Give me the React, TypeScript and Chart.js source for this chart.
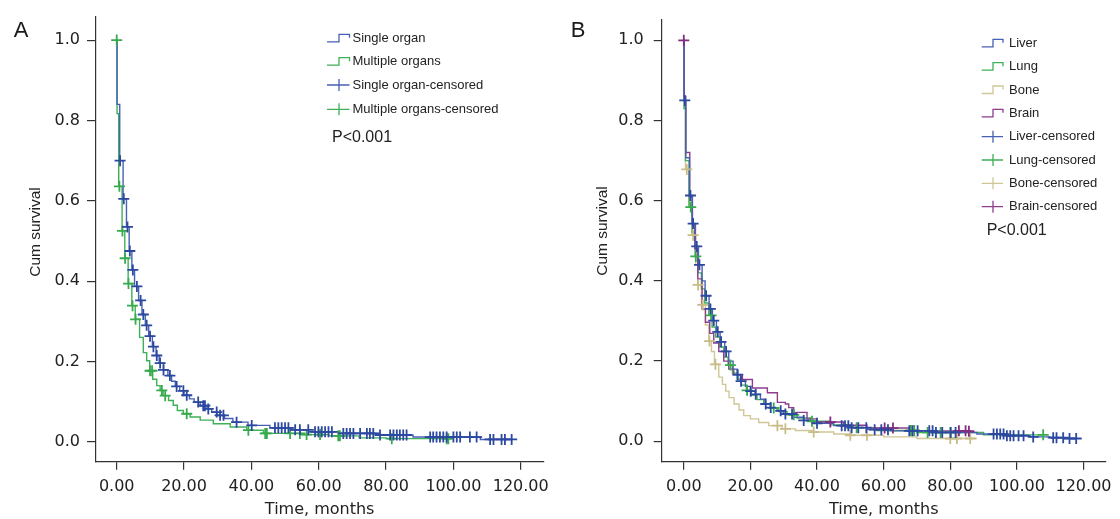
import React, { useEffect, useRef } from "react";
import { Chart, registerables } from "chart.js";
Chart.register(...registerables);

// ---------- tick labels ----------
const xTickValues = [0, 20, 40, 60, 80, 100, 120];
const yTickValues = [0, 0.2, 0.4, 0.6, 0.8, 1.0];

// ---------- Panel A ----------
const singleTimes = [0, 0.1, 0.9, 1.9, 2.9, 3.7, 4.5, 5.3, 6.5, 7.5, 8.5, 9.5, 10.6, 11.7, 12.6, 13.9, 15.2, 16.3, 17.4, 18.7, 20, 21.6, 23, 24.8, 26.8, 28.2, 29.8, 32, 34.5, 39, 45.5, 52, 57, 66, 78, 88, 108, 117.5];
const singleSurv = [1, 0.84, 0.7, 0.605, 0.535, 0.475, 0.428, 0.387, 0.352, 0.317, 0.29, 0.263, 0.237, 0.215, 0.196, 0.179, 0.165, 0.151, 0.138, 0.127, 0.116, 0.107, 0.099, 0.09, 0.082, 0.074, 0.066, 0.058, 0.049, 0.041, 0.035, 0.03, 0.025, 0.021, 0.017, 0.012, 0.006, 0.006];
const singleCensored = [1.0, 2.1, 3.2, 3.9, 4.8, 6.0, 7.1, 7.9, 8.9, 9.9, 10.9, 11.9, 12.9, 13.9, 15.8, 17.8, 19.8, 20.8, 24.2, 25.7, 26.2, 27.2, 29.7, 30.7, 31.7, 35.6, 40.1, 47, 48, 49, 50, 51, 53, 54.4, 56.9, 58.9, 59.9, 60.9, 61.9, 62.9, 63.9, 67.3, 68.3, 69.3, 70.3, 72.3, 74.3, 75.2, 76.2, 78.2, 81.2, 82.2, 83.2, 84.1, 85.1, 86.1, 93.1, 94, 95, 96, 97, 98, 100, 101, 102, 104.9, 106.9, 110.9, 111.9, 114.3, 115.3, 117.3];

const multiTimes = [0, 0.1, 0.6, 1.6, 2.4, 3.4, 4.5, 5.5, 6.8, 7.9, 8.9, 9.8, 10.7, 11.9, 12.9, 13.8, 15.4, 16.8, 18, 19.8, 21.8, 24.8, 28.7, 33.7, 38.6, 43.6, 55, 63, 72, 80, 98.5];
const multiSurv = [1, 0.817, 0.636, 0.525, 0.457, 0.394, 0.339, 0.305, 0.26, 0.222, 0.202, 0.177, 0.156, 0.14, 0.128, 0.115, 0.103, 0.091, 0.078, 0.07, 0.062, 0.054, 0.045, 0.037, 0.029, 0.021, 0.018, 0.015, 0.01, 0.008, 0.008];
const multiCensored = [0, 0.8, 1.7, 2.5, 3.5, 4.7, 5.6, 9.9, 10.5, 13.4, 14.4, 20.8, 39.1, 44.1, 44.6, 51.5, 54.4, 56.4, 60.4, 65.8, 66.3, 81.7, 98, 98.5];

// ---------- Panel B ----------
const liverTimes = [0, 0.1, 0.6, 1.7, 2.5, 3.5, 4.4, 5.5, 6.4, 7.6, 8.6, 9.8, 10.9, 12.3, 13.5, 14.8, 16, 17, 18.5, 20, 21.4, 23, 24.4, 26, 28, 29.9, 33, 36, 39, 45, 50, 55, 62, 75, 88, 97, 104, 110, 114, 117.8];
const liverSurv = [1, 0.85, 0.707, 0.613, 0.543, 0.486, 0.44, 0.4, 0.363, 0.33, 0.301, 0.273, 0.248, 0.224, 0.2, 0.18, 0.166, 0.15, 0.137, 0.125, 0.117, 0.105, 0.093, 0.084, 0.076, 0.068, 0.06, 0.052, 0.045, 0.039, 0.034, 0.029, 0.026, 0.022, 0.018, 0.014, 0.011, 0.009, 0.007, 0.007];
const liverCensored = [0.3, 2.0, 2.8, 3.9, 4.7, 6.7, 8.0, 9.0, 10.2, 11.2, 12.7, 16.2, 17.2, 20.1, 21.6, 24.6, 26.1, 29.1, 30.5, 32.5, 36, 40, 47.4, 48.4, 49.4, 50.4, 52.4, 54.8, 57.3, 59.3, 61.3, 67.7, 68.7, 70.2, 73.7, 74.7, 75.7, 77.6, 80.1, 81.6, 93, 94, 95, 96, 97, 98, 99, 100.5, 102, 104.9, 110.9, 111.9, 113.9, 115.8, 117.8];

const lungTimes = [0, 0.1, 0.5, 1.6, 2.5, 3.4, 4.3, 5.3, 6.3, 7.5, 8.5, 9.6, 10.8, 12, 13.3, 14.6, 16, 17.3, 18.8, 20.3, 22, 24, 26, 28.5, 31, 34, 38, 44, 50, 58, 70, 90, 107.9];
const lungSurv = [1, 0.83, 0.7, 0.584, 0.52, 0.461, 0.42, 0.38, 0.345, 0.314, 0.285, 0.26, 0.235, 0.21, 0.19, 0.17, 0.155, 0.14, 0.127, 0.115, 0.104, 0.093, 0.083, 0.074, 0.066, 0.058, 0.05, 0.041, 0.034, 0.027, 0.022, 0.016, 0.016];
const lungCensored = [2.1, 3.6, 8.2, 14, 19, 27, 33, 38.5, 51.9, 68.2, 69.2, 73.2, 77.1, 80.1, 107.9];

const boneTimes = [0, 0.1, 0.5, 1.5, 2.5, 3.6, 4.2, 5.3, 6.5, 7.5, 8.3, 9.2, 10.5, 11.6, 12.6, 13.6, 15.1, 16.6, 18, 20, 22.5, 25.5, 29.5, 33.5, 38.5, 45, 50, 60, 70, 88];
const boneSurv = [1, 0.83, 0.678, 0.59, 0.514, 0.44, 0.39, 0.34, 0.29, 0.25, 0.224, 0.192, 0.16, 0.142, 0.125, 0.109, 0.093, 0.078, 0.064, 0.056, 0.047, 0.039, 0.031, 0.027, 0.023, 0.018, 0.015, 0.011, 0.007, 0.007];
const boneCensored = [0.9, 2.8, 4.3, 5.7, 7.7, 9.5, 28.1, 30.5, 39, 50, 55, 80, 82, 86];

const brainTimes = [0, 0.1, 0.6, 1.8, 2.6, 3.3, 4.2, 5.5, 6.5, 7.8, 9, 10.5, 12, 13.5, 15, 17.6, 20.6, 25.1, 28.1, 30.5, 31.5, 33, 37, 40, 48, 55, 68, 85.6];
const brainSurv = [1, 0.86, 0.72, 0.61, 0.54, 0.48, 0.405, 0.33, 0.297, 0.269, 0.245, 0.224, 0.2, 0.18, 0.166, 0.154, 0.133, 0.121, 0.097, 0.093, 0.084, 0.072, 0.056, 0.048, 0.04, 0.033, 0.026, 0.025];
const brainCensored = [0, 44, 60.3, 62.8, 82.6, 84.6, 85.6];

// ---------- texts ----------
const legendA = ["Single organ", "Multiple organs", "Single organ-censored", "Multiple organs-censored"];
const legendB = ["Liver", "Lung", "Bone", "Brain", "Liver-censored", "Lung-censored", "Bone-censored", "Brain-censored"];
const pValueText = "P<0.001";
const xTitle = "Time, months";
const yTitle = "Cum survival";

// ---------- colours ----------
const BLUE = "rgb(72,96,178)";
const BLUE_MARK = "rgb(44,72,160)";
const GREEN = "rgb(62,176,86)";
const GREEN_MARK = "rgb(56,170,78)";
const TAN = "rgb(208,198,150)";
const TAN_MARK = "rgb(200,188,135)";
const PURPLE = "rgb(142,60,142)";
const PURPLE_MARK = "rgb(130,45,130)";

type Curve = { times: number[]; surv: number[]; cens: number[]; line: string; mark: string };

function survAt(t: number, times: number[], surv: number[]) {
  let s = surv[0];
  for (let i = 0; i < times.length; i++) if (times[i] <= t) s = surv[i];
  return s;
}

type PanelCfg = {
  offsetX: number;
  letter: string;
  letterX: number;
  chartLeft: number;
  chartRight: number;
  xMin: number;
  xMax: number;
  yMin: number;
  yMax: number;
  yTickLen: number;
  yTickPad: number;
  yTitleX: number;
  yTitleY: number;
  curves: Curve[];
  legendLabels: string[];
  legendKinds: { kind: "line" | "cross"; color: string }[];
  iconX0: number;
  iconX1: number;
  iconXm: number;
  textX: number;
  rowY: number[];
  pX: number;
  pY: number;
};

const panelA: PanelCfg = {
  offsetX: 0,
  letter: "A",
  letterX: 21,
  chartLeft: 96,
  chartRight: 543.3,
  xMin: -6.15,
  xMax: 126.7,
  yMin: -0.0494,
  yMax: 1.0585,
  yTickLen: 9,
  yTickPad: 7,
  yTitleX: 36,
  yTitleY: 232,
  curves: [
    { times: singleTimes, surv: singleSurv, cens: singleCensored, line: BLUE, mark: BLUE_MARK },
    { times: multiTimes, surv: multiSurv, cens: multiCensored, line: GREEN, mark: GREEN_MARK },
  ],
  legendLabels: legendA,
  legendKinds: [
    { kind: "line", color: BLUE },
    { kind: "line", color: GREEN },
    { kind: "cross", color: BLUE },
    { kind: "cross", color: GREEN },
  ],
  iconX0: 327,
  iconX1: 349.5,
  iconXm: 339,
  textX: 352.5,
  rowY: [38.3, 61.7, 85, 109.3],
  pX: 332,
  pY: 138,
};

const panelB: PanelCfg = {
  offsetX: 560,
  letter: "B",
  letterX: 578,
  chartLeft: 101.7,
  chartRight: 550,
  xMin: -6.63,
  xMax: 126.7,
  yMin: -0.0509,
  yMax: 1.0516,
  yTickLen: 8,
  yTickPad: 10,
  yTitleX: 603,
  yTitleY: 231,
  curves: [
    { times: liverTimes, surv: liverSurv, cens: liverCensored, line: BLUE, mark: BLUE_MARK },
    { times: brainTimes, surv: brainSurv, cens: brainCensored, line: PURPLE, mark: PURPLE_MARK },
    { times: lungTimes, surv: lungSurv, cens: lungCensored, line: GREEN, mark: GREEN_MARK },
    { times: boneTimes, surv: boneSurv, cens: boneCensored, line: TAN, mark: TAN_MARK },
  ],
  legendLabels: legendB,
  legendKinds: [
    { kind: "line", color: BLUE },
    { kind: "line", color: GREEN },
    { kind: "line", color: TAN },
    { kind: "line", color: PURPLE },
    { kind: "cross", color: BLUE },
    { kind: "cross", color: GREEN },
    { kind: "cross", color: TAN },
    { kind: "cross", color: PURPLE },
  ],
  iconX0: 981.7,
  iconX1: 1003,
  iconXm: 993,
  textX: 1009,
  rowY: [43.3, 66.7, 90, 113.3, 136.7, 160, 183.3, 206.7],
  pX: 986.7,
  pY: 231,
};

const W = 560;
const H = 519;
const CHART_TOP = 13.3;
const AXIS_Y = 461.7;

function Panel({ cfg }: { cfg: PanelCfg }) {
  const ref = useRef<HTMLCanvasElement | null>(null);
  useEffect(() => {
    if (!ref.current) return;
    const markSets = cfg.curves.map((c) => ({
      data: c.cens.map((t) => ({ x: t, y: survAt(t, c.times, c.surv) })),
      showLine: false,
      pointStyle: "cross" as const,
      pointRadius: 5.5,
      pointBorderWidth: 1.8,
      borderColor: c.mark,
      backgroundColor: c.mark,
      pointBorderColor: c.mark,
    }));
    const lineSets = cfg.curves.map((c) => ({
      data: c.times.map((t, i) => ({ x: t, y: c.surv[i] })),
      stepped: "before" as const,
      borderColor: c.line,
      borderWidth: 1.4,
      pointRadius: 0,
      fill: false,
      tension: 0,
    }));
    const ox = cfg.offsetX;
    const deco = {
      id: "deco" + cfg.letter,
      afterDraw(chart: any) {
        const ctx = chart.ctx as CanvasRenderingContext2D;
        ctx.save();
        ctx.fillStyle = "#1a1a1a";
        ctx.textBaseline = "middle";
        ctx.textAlign = "center";
        ctx.font = '22px "Liberation Sans"';
        ctx.fillText(cfg.letter, cfg.letterX - ox, 31);
        // y-axis title
        ctx.save();
        ctx.translate(cfg.yTitleX - ox, cfg.yTitleY);
        ctx.rotate(-Math.PI / 2);
        ctx.font = '15.5px "Liberation Sans"';
        ctx.fillStyle = "#222";
        ctx.fillText(yTitle, 0, 0);
        ctx.restore();
        ctx.textAlign = "left";
        ctx.font = '13px "Liberation Sans"';
        cfg.legendLabels.forEach((lab, i) => {
          const y = cfg.rowY[i];
          const k = cfg.legendKinds[i];
          const x0 = cfg.iconX0 - ox;
          const x1 = cfg.iconX1 - ox;
          const xm = cfg.iconXm - ox;
          ctx.strokeStyle = k.color;
          ctx.lineWidth = 1.3;
          ctx.beginPath();
          if (k.kind === "line") {
            ctx.moveTo(x0, y + 3.5);
            ctx.lineTo(xm, y + 3.5);
            ctx.lineTo(xm, y - 4);
            ctx.lineTo(x1, y - 4);
            ctx.lineTo(x1, y - 0.5);
          } else {
            ctx.moveTo(x0, y);
            ctx.lineTo(x1, y);
            ctx.moveTo(xm, y - 6);
            ctx.lineTo(xm, y + 6);
          }
          ctx.stroke();
          ctx.fillStyle = "#222";
          ctx.fillText(lab, cfg.textX - ox, y);
        });
        ctx.font = '16px "Liberation Sans"';
        ctx.fillStyle = "#222";
        ctx.fillText(pValueText, cfg.pX - ox, cfg.pY);
        ctx.restore();
      },
    };
    const chart = new Chart(ref.current, {
      type: "line",
      data: { datasets: [...markSets, ...lineSets] as any },
      options: {
        animation: false,
        responsive: false,
        events: [],
        layout: { padding: { left: 0, top: CHART_TOP, right: W - cfg.chartRight, bottom: 0 } },
        plugins: { legend: { display: false }, tooltip: { enabled: false } },
        scales: {
          x: {
            type: "linear",
            min: cfg.xMin,
            max: cfg.xMax,
            afterBuildTicks: (s: any) => {
              s.ticks = xTickValues.map((v) => ({ value: v }));
            },
            afterFit: (s: any) => {
              s.height = H - AXIS_Y;
            },
            ticks: {
              callback: (v: any) => Number(v).toFixed(2),
              font: { family: "DejaVu Sans", size: 16 },
              color: "#222",
              padding: 8,
              maxRotation: 0,
              autoSkip: false,
            },
            grid: { drawOnChartArea: false, drawTicks: true, tickLength: 8, color: "#333", lineWidth: 1.2 },
            border: { display: true, color: "#333", width: 1.2 },
            title: {
              display: true,
              text: xTitle,
              font: { family: "DejaVu Sans", size: 16 },
              color: "#222",
              padding: { top: 0, bottom: 0 },
            },
          },
          y: {
            type: "linear",
            min: cfg.yMin,
            max: cfg.yMax,
            afterBuildTicks: (s: any) => {
              s.ticks = yTickValues.map((v) => ({ value: v }));
            },
            afterFit: (s: any) => {
              s.width = cfg.chartLeft;
            },
            ticks: {
              callback: (v: any) => Number(v).toFixed(1),
              font: { family: "DejaVu Sans", size: 16 },
              color: "#222",
              padding: cfg.yTickPad,
              autoSkip: false,
            },
            grid: { drawOnChartArea: false, drawTicks: true, tickLength: cfg.yTickLen, color: "#333", lineWidth: 1.2 },
            border: { display: true, color: "#333", width: 1.2 },
            title: { display: false },
          },
        },
      },
      plugins: [deco],
    } as any);
    return () => chart.destroy();
  }, [cfg]);
  return (
    <div style={{ position: "absolute", left: cfg.offsetX, top: 0, width: W, height: H }}>
      <canvas ref={ref} width={W} height={H} style={{ width: W, height: H, display: "block" }} />
    </div>
  );
}

export default function App() {
  return (
    <div style={{ position: "absolute", left: 0, top: 0, width: 1120, height: 519, background: "#fff", overflow: "hidden" }}>
      <Panel cfg={panelA} />
      <Panel cfg={panelB} />
    </div>
  );
}
